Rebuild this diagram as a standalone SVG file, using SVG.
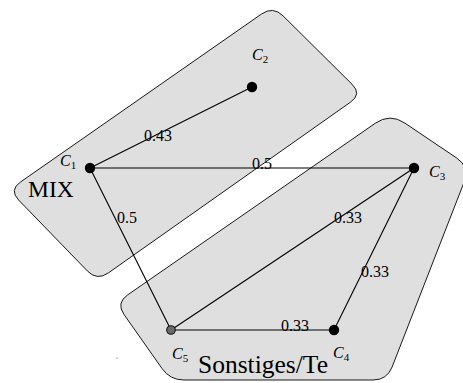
<svg xmlns="http://www.w3.org/2000/svg" width="463" height="383" viewBox="0 0 463 383">
<style>
.cl{fill:#dfdfdf;stroke:#000;stroke-width:0.9}
.e{stroke:#000;stroke-width:1.1;fill:none}
.n{fill:#000}
.w{font-family:"Liberation Serif",serif;font-size:16px;fill:#000;text-anchor:middle}
.nl{font-family:"Liberation Serif",serif;font-size:16px;font-style:italic;fill:#000}
.sub{font-size:11px;font-style:normal}
.big{font-family:"Liberation Serif",serif;fill:#000}
</style>
<rect width="463" height="383" fill="#fff"/>
<g id="cluster-mix">
<path class="cl" d="M 261.5,14 Q 273,6 283,15.8 L 352,84.2 Q 362,94 350.6,102.1 L 108.4,272.9 Q 97,281 87.3,270.9 L 18.7,200.1 Q 9,190 20.5,182 Z"/>
<text class="big" x="28" y="197" font-size="23.5">MIX</text>
</g>
<g id="cluster-sonstiges">
<path class="cl" d="M 127.5,295 L 375.2,123.3 Q 390,113 404.9,123.1 L 456.7,158 Q 470,167 464.2,181.9 L 392.1,367 Q 387,380 373,380 L 184,380 Q 170,380 162,368.5 L 124,314.5 Q 116,303 127.5,295 Z"/>
<text class="big" x="198" y="373" font-size="25.5">Sonstiges/Te</text>
</g>
<circle cx="117" cy="358" r="0.7" fill="#888"/>
<g id="connectors">
<line class="e" x1="90" y1="168" x2="252" y2="87"/>
<line class="e" x1="90" y1="168" x2="414" y2="168"/>
<line class="e" x1="90" y1="168" x2="171" y2="330"/>
<line class="e" x1="171" y1="330" x2="414" y2="168"/>
<line class="e" x1="414" y1="168" x2="334" y2="330"/>
<line class="e" x1="171" y1="330" x2="334" y2="330"/>
<text class="w" x="158" y="141">0.43</text>
<text class="w" x="262" y="169">0.5</text>
<text class="w" x="127" y="223">0.5</text>
<text class="w" x="348" y="223">0.33</text>
<text class="w" x="375" y="277">0.33</text>
<text class="w" x="295" y="331">0.33</text>
</g>
<g id="C1"><circle class="n" cx="90" cy="168" r="5.2"/><text class="nl" x="60" y="166">C<tspan class="sub" dy="3">1</tspan></text></g>
<g id="C2"><circle class="n" cx="252" cy="87" r="5.2"/><text class="nl" x="252" y="60">C<tspan class="sub" dy="3">2</tspan></text></g>
<g id="C3"><circle class="n" cx="414" cy="168" r="5.2"/><text class="nl" x="429" y="177">C<tspan class="sub" dy="3">3</tspan></text></g>
<g id="C4"><circle class="n" cx="334" cy="330" r="5.2"/><text class="nl" x="333" y="358">C<tspan class="sub" dy="3">4</tspan></text></g>
<g id="C5"><circle cx="171" cy="330" r="4.3" fill="#6a6a6a" stroke="#111" stroke-width="1.1"/><text class="nl" x="172" y="359">C<tspan class="sub" dy="3">5</tspan></text></g>
</svg>
